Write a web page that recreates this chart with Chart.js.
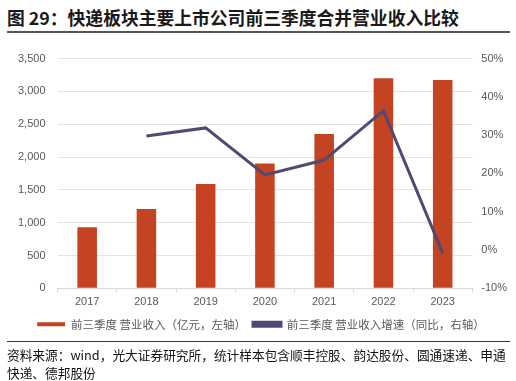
<!DOCTYPE html>
<html>
<head>
<meta charset="utf-8">
<script src="https://cdn.jsdelivr.net/npm/chart.js@4/dist/chart.umd.min.js"></script>
<style>
  body { margin: 0; width: 516px; height: 381px; background: #fff; font-family: "Noto Sans CJK SC", sans-serif; overflow: hidden; }
  #title { position: absolute; left: 7px; top: 4px; font-size: 17.8px; font-weight: bold; color: #1a1a1a; }
  #rule1 { position: absolute; left: 7px; top: 31px; width: 503px; height: 2px; background: #555; }
  #wrap { position: absolute; left: 0; top: 40px; width: 516px; height: 302px; }
  #rule2 { position: absolute; left: 7px; top: 341px; width: 503px; height: 1px; background: #333; }
  #source { position: absolute; left: 7px; top: 346px; width: 510px; font-size: 12.7px; line-height: 18px; color: #111; }
</style>
</head>
<body>
<div id="title">图 29：快递板块主要上市公司前三季度合并营业收入比较</div>
<div id="rule1"></div>
<div id="wrap"><canvas id="chart"></canvas></div>
<div id="rule2"></div>
<div id="source">资料来源：wind，光大证券研究所，统计样本包含顺丰控股、韵达股份、圆通速递、申通快递、德邦股份</div>
<script>
const years = ["2017", "2018", "2019", "2020", "2021", "2022", "2023"];
const revenue = [932, 1210, 1590, 1900, 2350, 3200, 3175];
const growth = [null, 29.8, 31.9, 19.6, 23.5, 36.4, -0.8];

const ctx = document.getElementById("chart");

const chart = new Chart(ctx, {
    data: {
        labels: years,
        datasets: [{
            type: "line",
            label: "前三季度 营业收入增速（同比，右轴）",
            data: growth,
            yAxisID: "y1",
            borderColor: "#4f4a72",
            backgroundColor: "#4f4a72",
            borderWidth: 3,
            pointRadius: 0,
            tension: 0,
            order: 0
        }, {
            type: "bar",
            label: "前三季度 营业收入（亿元，左轴）",
            data: revenue,
            yAxisID: "y",
            backgroundColor: "#c44322",
            barPercentage: 0.33,
            categoryPercentage: 1,
            order: 1
        }]
    },
    options: {
        responsive: true,
        maintainAspectRatio: false,
        animation: false,
        layout: { padding: { left: 6, right: 0, top: 12, bottom: 2 } },
        plugins: {
            legend: {
                position: "bottom",
                reverse: true,
                labels: {
                    boxWidth: 28,
                    boxHeight: 4,
                    padding: 7,
                    color: "#595959",
                    font: { family: "Noto Sans CJK SC", size: 11.5 }
                }
            },
            tooltip: { enabled: false }
        },
        scales: {
            x: {
                grid: { display: true, drawOnChartArea: false, tickLength: 4, color: "#d9d9d9", offset: true },
                border: { color: "#d9d9d9" },
                ticks: { color: "#595959", font: { family: "Liberation Sans", size: 11 }, padding: 3 }
            },
            y: {
                position: "left",
                min: 0,
                max: 3500,
                ticks: {
                    stepSize: 500,
                    color: "#595959",
                    padding: 12,
                    font: { family: "Liberation Sans", size: 11 },
                    callback: v => v.toLocaleString("en-US")
                },
                grid: { color: "#e3e3e3", lineWidth: 1, drawTicks: false },
                border: { display: false }
            },
            y1: {
                position: "right",
                min: -10,
                max: 50,
                ticks: {
                    stepSize: 10,
                    color: "#595959",
                    padding: 9,
                    font: { family: "Liberation Sans", size: 11 },
                    callback: v => v + "%"
                },
                grid: { display: false, drawTicks: false },
                border: { display: false }
            }
        }
    }
});
</script>
</body>
</html>
